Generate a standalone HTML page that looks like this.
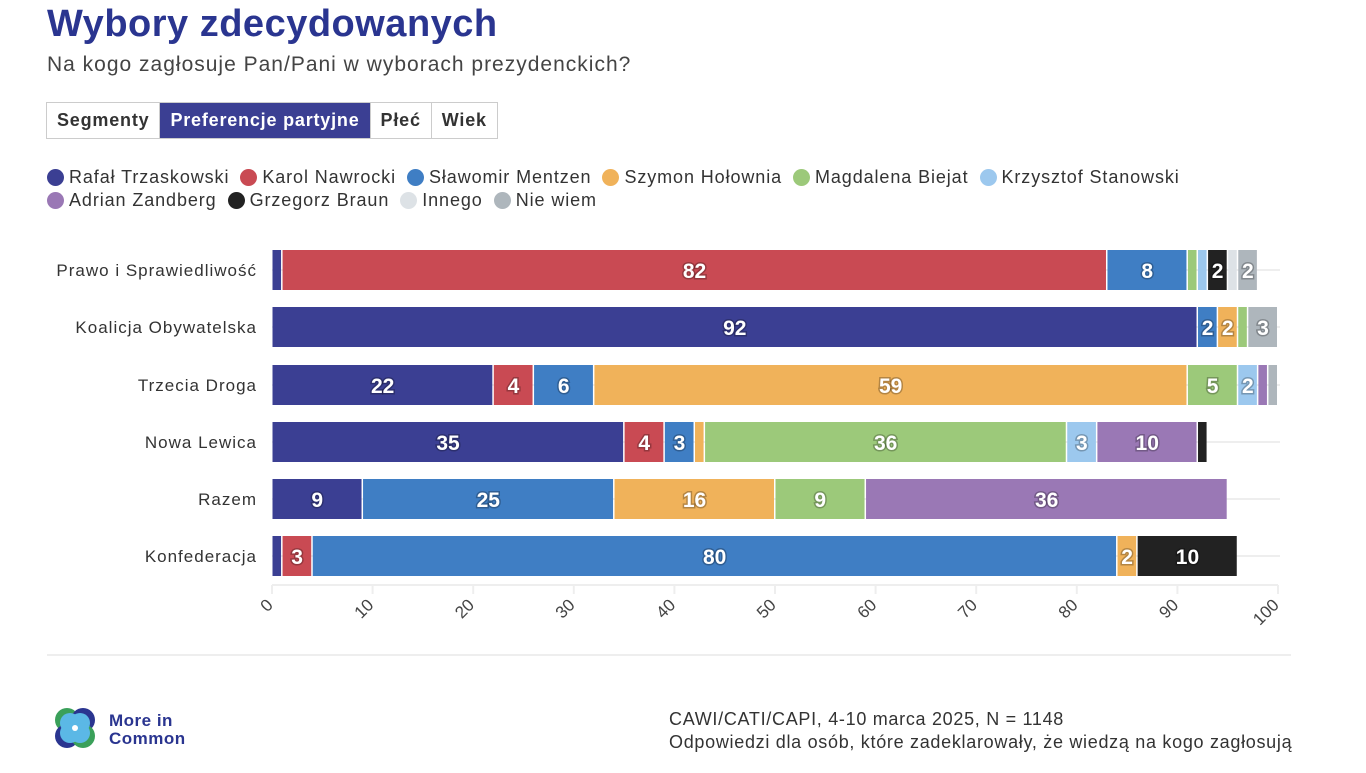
<!DOCTYPE html>
<html><head><meta charset="utf-8"><style>
body{margin:0;width:1366px;height:773px;background:#fff;font-family:"Liberation Sans",sans-serif;overflow:hidden;position:relative}
h1{position:absolute;left:47px;top:3px;margin:0;font-size:38px;color:#2a3590;font-weight:bold;letter-spacing:0.5px}
.sub{position:absolute;left:47px;top:53px;font-size:21px;color:#444;letter-spacing:1px}
.tabs{position:absolute;left:46px;top:102px;display:flex;border:1px solid #ccc;height:35px}
.tabs div{padding:0 10px;line-height:35px;font-size:18px;font-weight:bold;color:#333;border-right:1px solid #ccc;letter-spacing:0.8px}
.tabs div.on{background:#3b3f93;color:#fff}
.leg{position:absolute;left:47px;font-size:18px;color:#333;display:flex;gap:6px;letter-spacing:0.9px}
.leg span{display:inline-flex;align-items:center;margin-right:5px}
.leg i{display:inline-block;width:17px;height:17px;border-radius:50%;margin-right:5px}
.src{position:absolute;left:669px;top:708px;font-size:18px;color:#333;line-height:23px;letter-spacing:0.7px}
</style></head><body>
<h1>Wybory zdecydowanych</h1>
<div class="sub">Na kogo zagłosuje Pan/Pani w wyborach prezydenckich?</div>
<div class="tabs"><div>Segmenty</div><div class="on">Preferencje partyjne</div><div>Płeć</div><div style="border:none">Wiek</div></div>
<div class="leg" style="top:167px"><span><i style="background:#3b3f93"></i>Rafał Trzaskowski</span><span><i style="background:#c94a53"></i>Karol Nawrocki</span><span><i style="background:#3f7ec4"></i>Sławomir Mentzen</span><span><i style="background:#f0b25a"></i>Szymon Hołownia</span><span><i style="background:#9cc97a"></i>Magdalena Biejat</span><span><i style="background:#9cc8ee"></i>Krzysztof Stanowski</span></div>
<div class="leg" style="top:190px"><span><i style="background:#9a78b5"></i>Adrian Zandberg</span><span><i style="background:#222"></i>Grzegorz Braun</span><span><i style="background:#dde2e6"></i>Innego</span><span><i style="background:#aeb6bc"></i>Nie wiem</span></div>
<svg id="c" width="1366" height="773" style="position:absolute;left:0;top:0"></svg>
<svg width="60" height="50" style="position:absolute;left:50px;top:705px">
<circle cx="17" cy="15" r="12" fill="#3aa05a"/><circle cx="33" cy="15" r="12" fill="#2a3590"/><circle cx="17" cy="31" r="12" fill="#2a3590"/><circle cx="33" cy="31" r="12" fill="#3aa05a"/>
<circle cx="20" cy="18" r="10" fill="#5bb8e6"/><circle cx="30" cy="18" r="10" fill="#5bb8e6"/><circle cx="20" cy="28" r="10" fill="#5bb8e6"/><circle cx="30" cy="28" r="10" fill="#5bb8e6"/><circle cx="25" cy="23" r="3" fill="#fff"/></svg>
<div style="position:absolute;left:109px;top:712px;font-size:17px;font-weight:bold;color:#2a3590;line-height:18px;letter-spacing:0.5px">More in<br>Common</div>
<div class="src">CAWI/CATI/CAPI, 4-10 marca 2025, N = 1148<br>Odpowiedzi dla osób, które zadeklarowały, że wiedzą na kogo zagłosują</div>
<script>
const C=["#3b3f93","#c94a53","#3f7ec4","#f0b25a","#9cc97a","#9cc8ee","#9a78b5","#222","#dde2e6","#aeb6bc"];
const rows=[["Prawo i Sprawiedliwość",270,[[0,1],[1,82],[2,8],[4,1],[5,1],[7,2],[8,1],[9,2]]],
["Koalicja Obywatelska",327,[[0,92],[2,2],[3,2],[4,1],[9,3]]],
["Trzecia Droga",385,[[0,22],[1,4],[2,6],[3,59],[4,5],[5,2],[6,1],[9,1]]],
["Nowa Lewica",442,[[0,35],[1,4],[2,3],[3,1],[4,36],[5,3],[6,10],[7,1]]],
["Razem",499,[[0,9],[2,25],[3,16],[4,9],[6,36]]],
["Konfederacja",556,[[0,1],[1,3],[2,80],[3,2],[7,10]]]];
const X=v=>272+v*10.06;let s="";
s+=`<line x1="272" x2="1278" y1="585" y2="585" stroke="#eee" stroke-width="2"/>`;
for(const[n,y,segs]of rows){s+=`<line x1="272" x2="1280" y1="${y}" y2="${y}" stroke="#eee" stroke-width="2"/>`;
s+=`<text x="257" y="${y+6}" text-anchor="end" font-size="17" fill="#333" letter-spacing="1">${n}</text>`;let a=0;
for(const[c,v]of segs){const x1=X(a),x2=X(a+v);s+=`<rect x="${x1+0.5}" y="${y-20}" width="${Math.max(x2-x1-1.5,1)}" height="40" fill="${C[c]}"/>`;
if(v>=2)s+=`<text x="${(x1+x2)/2}" y="${y+8}" text-anchor="middle" font-size="21" font-weight="bold" fill="#fff" stroke="rgba(0,0,0,0.25)" stroke-width="3" paint-order="stroke">${v}</text>`;a+=v;}}
for(let t=0;t<=100;t+=10){const x=X(t);s+=`<line x1="${x}" x2="${x}" y1="585" y2="594" stroke="#eee" stroke-width="2"/><text transform="translate(${x+2},${606}) rotate(-45)" text-anchor="end" font-size="17" fill="#444">${t}</text>`;}
s+=`<line x1="47" x2="1291" y1="655" y2="655" stroke="#ddd"/>`;
document.getElementById("c").innerHTML=s;
</script>
</body></html>
